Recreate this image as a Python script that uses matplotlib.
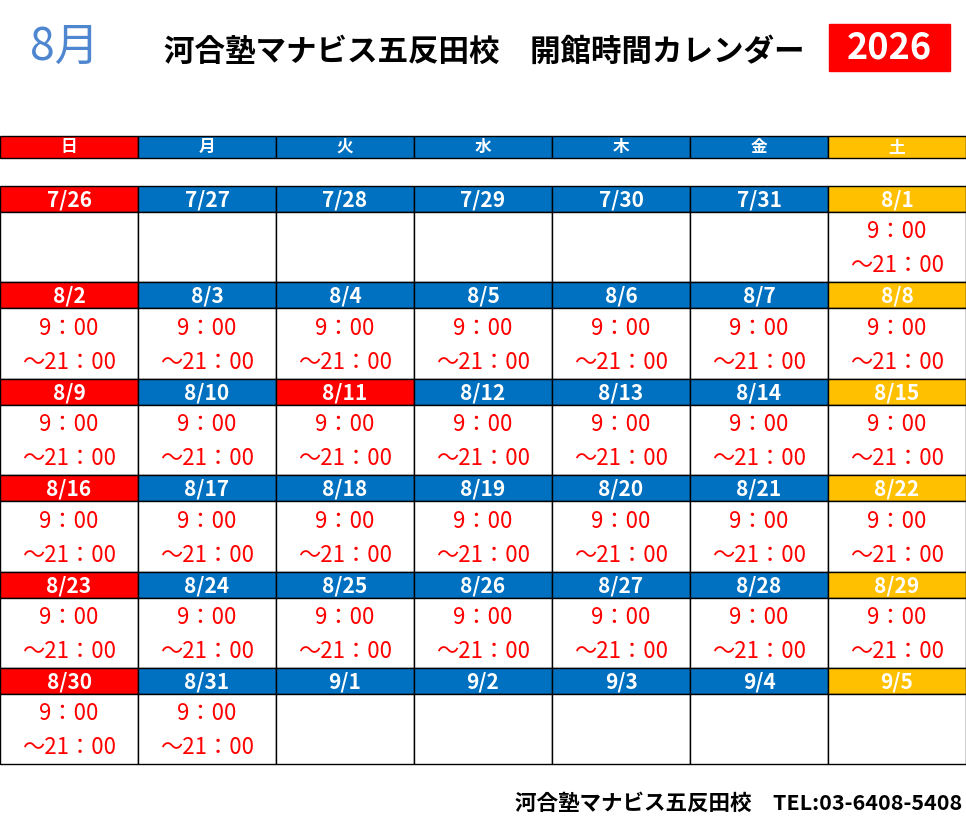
import matplotlib
matplotlib.use("Agg")
import matplotlib.pyplot as plt
from matplotlib.patches import Rectangle

plt.rcParams['font.family'] = ['Noto Sans CJK JP', 'DejaVu Sans']

month_label = "8月"
title = "河合塾マナビス五反田校　開館時間カレンダー"
year = "2026"
weekdays = ["日", "月", "火", "水", "木", "金", "土"]
weeks = [
    ["7/26", "7/27", "7/28", "7/29", "7/30", "7/31", "8/1"],
    ["8/2", "8/3", "8/4", "8/5", "8/6", "8/7", "8/8"],
    ["8/9", "8/10", "8/11", "8/12", "8/13", "8/14", "8/15"],
    ["8/16", "8/17", "8/18", "8/19", "8/20", "8/21", "8/22"],
    ["8/23", "8/24", "8/25", "8/26", "8/27", "8/28", "8/29"],
    ["8/30", "8/31", "9/1", "9/2", "9/3", "9/4", "9/5"],
]
open_days = ["8/1"] + [f"8/{d}" for d in range(2, 32)]
holidays = ["8/11"]
open_time = "9：00"
close_time = "～21：00"
footer = "河合塾マナビス五反田校　TEL:03-6408-5408"

RED, BLUE, YEL = "#FF0000", "#0070C0", "#FFC000"
def col_color(c, d=None):
    if c == 0 or (d in holidays):
        return RED
    if c == 6:
        return YEL
    return BLUE

fig = plt.figure(figsize=(9.66, 8.16), dpi=100)
ax = fig.add_axes([0, 0, 1, 1])
ax.set_xlim(0, 966); ax.set_ylim(816, 0); ax.axis("off")

W = 138
ax.text(65, 47, month_label, color="#4F86D0", fontsize=32, ha="center", va="center")
ax.text(484, 52, title, color="black", fontsize=22, fontweight="bold", ha="center", va="center")
ax.add_patch(Rectangle((829, 24), 121, 47, color=RED))
ax.text(889, 48, year, color="white", fontsize=26, fontweight="bold", ha="center", va="center")

for c, wd in enumerate(weekdays):
    ax.add_patch(Rectangle((c*W, 136), W, 22, facecolor=col_color(c), edgecolor="black", lw=1))
    ax.text(c*W+W/2, 147, wd, color="white", fontsize=12, fontweight="bold", ha="center", va="center")

top = 186; stride = 96.4; hh = 26
for r, wk in enumerate(weeks):
    y0 = top + r*stride
    for c, d in enumerate(wk):
        x0 = c*W
        ax.add_patch(Rectangle((x0, y0), W, hh, facecolor=col_color(c, d), edgecolor="black", lw=1))
        ax.text(x0+W/2, y0+hh/2+1, d, color="white", fontsize=15, fontweight="bold", ha="center", va="center")
        ax.add_patch(Rectangle((x0, y0+hh), W, stride-hh, facecolor="white", edgecolor="black", lw=1))
        if d in open_days:
            ax.text(x0+W/2, y0+hh+20, open_time, color=RED, fontsize=16, ha="center", va="center")
            ax.text(x0+W/2, y0+hh+54, close_time, color=RED, fontsize=16, ha="center", va="center")

ax.text(962, 803, footer, color="black", fontsize=15.5, fontweight="bold", ha="right", va="center")
fig.savefig("out.png", dpi=100)
